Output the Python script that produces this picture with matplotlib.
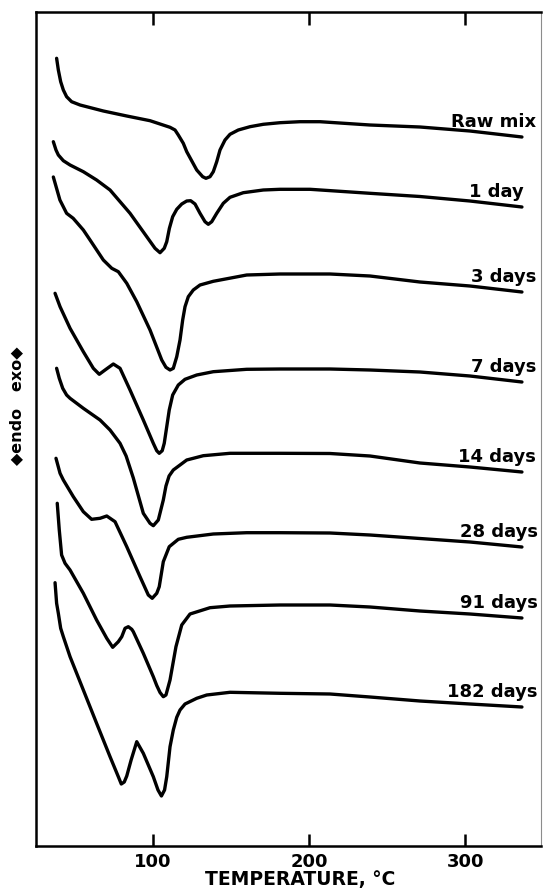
import numpy as np
import matplotlib
matplotlib.use("Agg")
import matplotlib.pyplot as plt

# DTA curves: temperature (°C) and signal relative to
# each curve's end point (arbitrary units, up = exo)
labels = ["Raw mix", "1 day", "3 days", "7 days", "14 days", "28 days", "91 days", "182 days"]
shifts = [709, 639, 554, 464, 374, 299, 228, 139]

t_raw = [38.5, 39.6, 41.1, 42.8, 44.9, 48.1, 53.5, 68.4, 83.4, 98.3, 111.1, 114.3, 116.4, 119.6,
         121.8, 128.2, 132.0, 134.1, 136.7, 138.8, 141.0, 143.1, 146.3, 149.5, 154.8, 162.3,
         170.8, 181.5, 194.3, 207.1, 239.1, 271.1, 303.1, 336.4]
s_raw = [78.7, 67, 55.3, 47, 40.3, 35.3, 32, 26, 21, 16.3, 9.7, 7, 2, -6.3,
         -14.7, -33, -39.7, -41.3, -39.7, -34.7, -24.7, -13, -3, 2.7, 7, 10.3,
         12.7, 14.3, 15.3, 15.3, 12, 10, 6, 0]

t_1d = [36.4, 38.1, 39.6, 42.8, 47.1, 55.6, 64.1, 72.7, 85.5, 96.2, 101.5, 104.7, 107.4, 109.0,
        110.7, 112.8, 115.4, 118.6, 121.8, 124.3, 127.1, 130.3, 133.5, 135.6, 137.8, 141.0,
        145.2, 149.5, 158.0, 170.8, 181.5, 200.7, 239.1, 271.1, 303.1, 336.4]
s_1d = [65.3, 57, 52, 46.3, 42, 35.3, 27, 17, -6.3, -29.7, -41.3, -45.7, -41.3, -34.7,
        -21.3, -9.7, -2.3, 3, 6, 6.3, 3, -6.3, -14.7, -17.3, -14.7, -6.3,
        3.7, 9.7, 14.3, 17, 17.7, 17.7, 13.7, 10.5, 6, 0]

t_3d = [36.4, 40.6, 44.9, 49.1, 55.6, 59.9, 68.4, 73.8, 78.0, 83.4, 89.8, 98.3, 105.8, 108.5,
        111.1, 113.2, 115.4, 117.5, 119.2, 120.7, 122.8, 126.0, 130.3, 138.8, 160.2, 181.5,
        213.5, 239.1, 271.1, 303.1, 336.4]
s_3d = [115, 92, 78.7, 73.7, 62, 52, 32, 23.7, 20.3, 8.7, -9.7, -38, -68, -75.3,
        -78, -76.3, -64.7, -48, -28, -14.7, -4.7, 2, 7, 10.7, 17, 18,
        18, 16, 10, 6, 0]

t_7d = [37.5, 40.7, 47.1, 55.6, 62.0, 65.8, 69.5, 74.8, 79.1, 85.5, 94.0, 100.4, 102.6, 104.2,
        106.1, 107.4, 109.0, 110.6, 112.8, 116.4, 120.7, 128.2, 138.8, 160.2, 181.5, 213.5,
        239.1, 271.1, 303.1, 336.4]
s_7d = [88.7, 75.3, 53.7, 30.3, 13.7, 7.7, 12, 18, 13.7, -8, -38, -61.3, -68.7, -71.3,
        -68.7, -61.3, -44.7, -28, -13, -3, 2.7, 7, 10.3, 12.7, 13, 13,
        12, 10, 6, 0]

t_14d = [38.5, 40.2, 42.4, 44.9, 47.1, 55.6, 66.3, 72.7, 79.1, 83.0, 87.6, 94.0, 98.3, 100.4,
         103.6, 106.8, 108.5, 110.5, 113.2, 117.5, 121.8, 126.0, 132.4, 149.5, 181.5, 213.5,
         239.1, 271.1, 303.1, 336.4]
s_14d = [103.7, 93.7, 83.7, 77, 73.7, 63.7, 52, 42, 28.7, 16, -6, -41.3, -51.3, -53.7,
         -48, -28, -14, -4, 2, 7, 12, 13.7, 16.3, 18.7, 18.7, 18.5,
         16, 9, 5, 0]

t_28d = [38.1, 40.7, 42.8, 49.2, 55.6, 60.9, 66.3, 70.6, 75.9, 83.4, 91.9, 97.2, 99.7,
         102.6, 104.2, 106.8, 110.6, 116.4, 121.8, 138.8, 160.2, 181.5, 213.5, 239.1, 271.1,
         303.1, 336.4]
s_28d = [88.7, 73.7, 67, 50.3, 35.3, 27.7, 28.7, 31, 25.3, 0.3, -29.7, -48, -51.3,
         -46.3, -39.7, -14.7, 0.3, 7.7, 9.7, 13, 14.3, 14.3, 14, 12, 8.5,
         5, 0]

t_91d = [38.9, 40.2, 41.7, 43.9, 47.1, 55.6, 64.1, 70.6, 74.4, 78.0, 80.2, 82.3, 84.4, 86.6,
         87.6, 94.0, 100.4, 102.6, 104.7, 106.8, 108.5, 111.1, 114.9, 118.6, 123.9, 136.7,
         149.5, 181.5, 213.5, 239.1, 271.1, 303.1, 336.4]
s_91d = [114.7, 88, 63, 54.7, 48, 24.7, -2, -20.3, -29.3, -23.7, -18.7, -10.3, -8.7, -11.3,
         -13.7, -35.3, -58.7, -67.5, -74.5, -78.7, -77, -62, -28.7, -7, 4, 10.3,
         12, 13, 13, 11, 7, 4, 0]

t_182d = [37.5, 38.5, 39.6, 41.1, 42.8, 47.1, 55.6, 64.1, 72.7, 78.0, 79.9, 81.8, 83.4, 86.2,
          89.8, 94.0, 100.4, 103.4, 105.6, 107.6, 109.0, 111.1, 113.2, 115.4, 117.5, 120.7,
          128.2, 134.6, 149.5, 181.5, 213.5, 239.1, 271.1, 303.1, 336.4]
s_182d = [124.3, 103.7, 93.7, 78.7, 70.3, 50.3, 17, -16.3, -49.7, -69.7, -77, -75, -69, -53,
          -34.7, -46.3, -69.7, -83, -89, -83, -69.7, -39.7, -23, -10.3, -3, 3,
          8.7, 12, 14.7, 13.7, 13, 10, 6, 3, 0]

temps = [t_raw, t_1d, t_3d, t_7d, t_14d, t_28d, t_91d, t_182d]
signals = [s_raw, s_1d, s_3d, s_7d, s_14d, s_28d, s_91d, s_182d]

plt.rcParams["font.family"] = "DejaVu Sans"
plt.rcParams["font.weight"] = "bold"

fig = plt.figure(figsize=(5.44, 8.89), dpi=100)
ax = fig.add_axes([36 / 544, 43 / 889, 505 / 544, 834 / 889])

for t, s, off in zip(temps, signals, shifts):
    ax.plot(t, np.array(s) + off, color="black", lw=2.4,
            solid_joinstyle="round", solid_capstyle="round")

# curve names sit just above the right-hand end of each trace
label_x = [345.5, 337.5, 345.5, 345.5, 345.5, 346.5, 346.5, 346.5]
for lab, off, lx in zip(labels, shifts, label_x):
    ax.text(lx, off + 10, lab, ha="right", va="baseline", fontsize=13, fontweight="bold")

ax.set_xlim(25.3, 348.6)
ax.set_ylim(0, 834)
ax.set_xticks([100, 200, 300])
ax.set_yticks([])
ax.tick_params(axis="x", which="both", direction="in", length=9, width=1.8,
               top=True, labelsize=13, pad=5)
for lbl in ax.get_xticklabels():
    lbl.set_fontweight("bold")

for side in ["left", "bottom", "top"]:
    ax.spines[side].set_linewidth(1.8)
ax.spines["right"].set_linewidth(0.8)
ax.spines["right"].set_color("0.55")

ax.set_xlabel("TEMPERATURE, °C", fontsize=13.5, fontweight="bold")
ax.xaxis.set_label_coords(0.523, -0.029)

ax.text(-0.038, 0.528, "◆endo   exo◆", rotation=90, transform=ax.transAxes,
        ha="center", va="center", fontsize=11.5, fontweight="bold")

fig.savefig("out.png", dpi=100)
